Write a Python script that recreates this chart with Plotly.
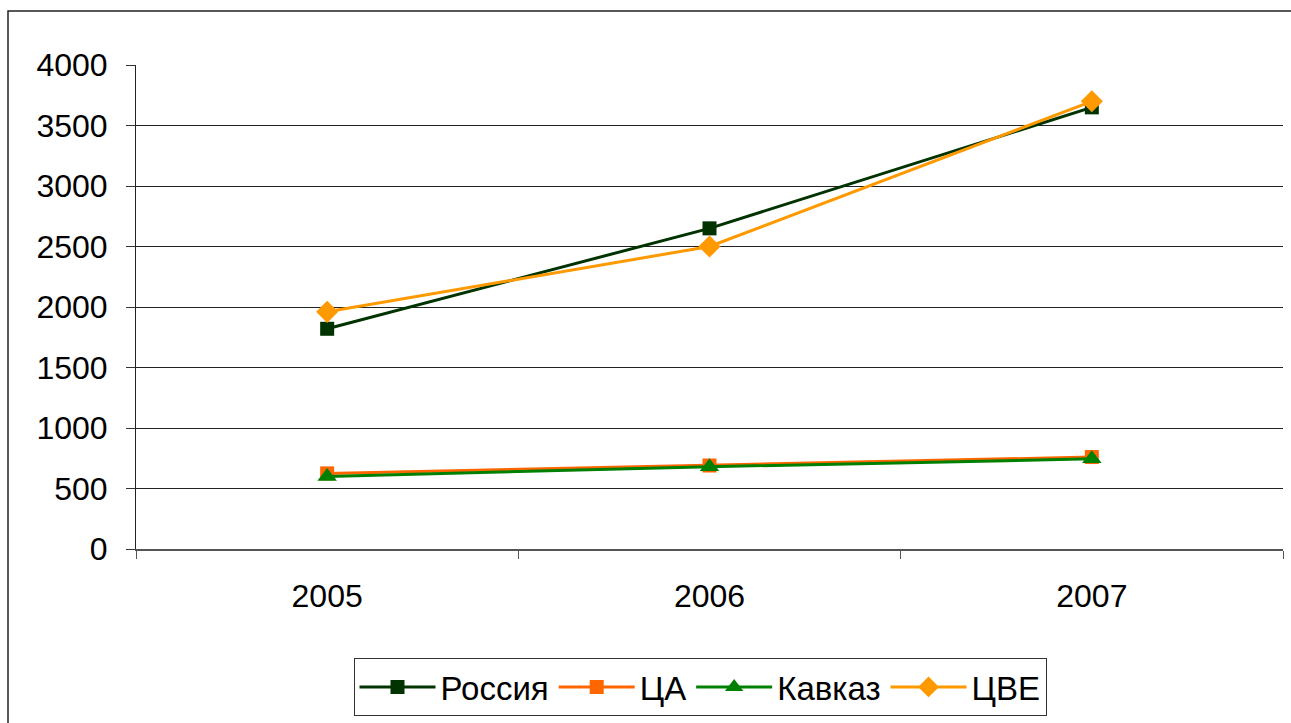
import plotly.graph_objects as go

years = ["2005", "2006", "2007"]
russia = [1820, 2650, 3650]
ca = [625, 690, 760]
kavkaz = [600, 680, 745]
cve = [1960, 2500, 3700]

series = [
    ("Россия", russia, "#003300", "square", 14),
    ("ЦА", ca, "#FF6600", "square", 14),
    ("Кавказ", kavkaz, "#008000", "triangle-up", 17),
    ("ЦВЕ", cve, "#FF9900", "diamond", 17),
]

fig = go.Figure()
for name, vals, color, sym, size in series:
    fig.add_trace(go.Scatter(
        x=years, y=vals, name=name, mode="lines+markers",
        line=dict(color=color, width=3),
        marker=dict(color=color, symbol=sym, size=size),
    ))

W, H = 1291, 723
L, T = 136, 65
R = W - 1283
B = H - 550
pw = W - L - R
ph = H - T - B

def px_x(x):
    return (x - L) / pw

def px_y(y):
    return (H - B - y) / ph

fig.update_layout(
    width=W, height=H,
    margin=dict(l=L, r=R, t=T, b=B, pad=0),
    paper_bgcolor="white", plot_bgcolor="white",
    font=dict(family="Liberation Sans, Arial, sans-serif", size=32, color="black"),
    showlegend=True,
    legend=dict(
        orientation="h", x=px_x(700), xanchor="center",
        y=px_y(687), yanchor="middle",
        bordercolor="#333333", borderwidth=1,
        font=dict(size=33), itemwidth=76,
        tracegroupgap=0,
    ),
    xaxis=dict(
        type="category", range=[-0.5, 2.5],
        tickson="boundaries", ticks="outside", ticklen=8, tickcolor="#555555",
        showline=True, linecolor="#555555", linewidth=1.5,
        showgrid=False, zeroline=False,
        tickfont=dict(size=32), ticklabelstandoff=18,
    ),
    yaxis=dict(
        range=[0, 4000], dtick=500, tickmode="linear",
        ticks="outside", ticklen=9, tickcolor="#333333",
        showline=True, linecolor="#222222", linewidth=1,
        showgrid=True, gridcolor="#222222", gridwidth=1,
        zeroline=False, tickfont=dict(size=32), ticklabelstandoff=12,
    ),
    shapes=[dict(
        type="rect", xref="paper", yref="paper",
        x0=px_x(8), x1=px_x(1300), y0=px_y(730), y1=px_y(11),
        line=dict(color="#222222", width=1.5), fillcolor="rgba(0,0,0,0)",
        layer="below",
    )],
)

fig.write_html(
    "out.html",
    config={"displayModeBar": False},
    post_script="document.body.style.margin='0';document.body.style.overflow='hidden';",
)
